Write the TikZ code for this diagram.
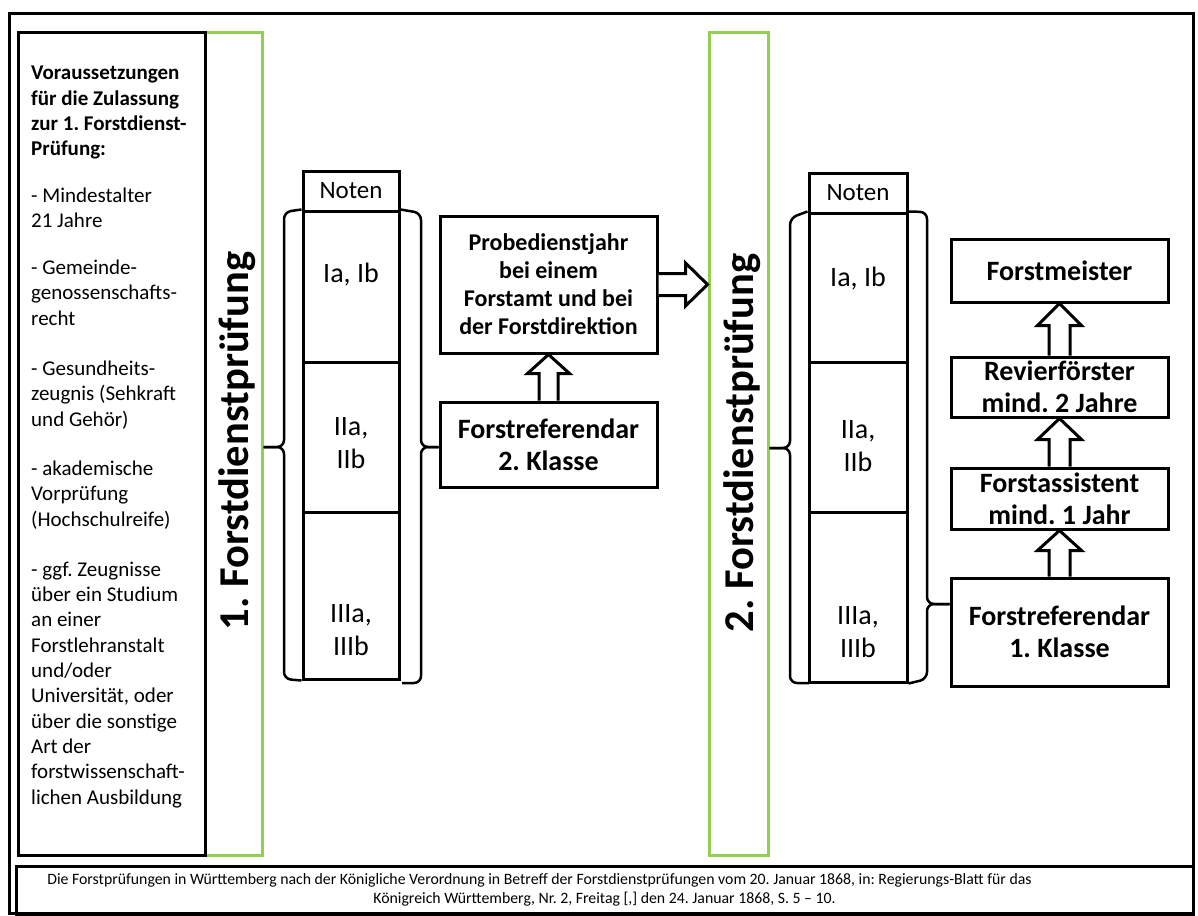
\documentclass[tikz,border=0pt]{standalone}
\usepackage{fontspec}
\setmainfont{Carlito}
\usetikzlibrary{calc}
\definecolor{examgreen}{RGB}{146,208,80}
\frenchspacing

\tikzset{
  outline/.style={draw=black, line width=3pt},
  box/.style={draw=black, line width=3pt, fill=white, inner sep=0pt, align=center,
    minimum width=217pt, font=\bfseries\fontsize{28}{32}\selectfont},
  cell/.style={draw=black, line width=3pt, inner sep=0pt, minimum width=96pt},
  grade/.style={align=center, inner sep=0pt, font=\fontsize{28}{33}\selectfont},
  examframe/.style={draw=examgreen, line width=3pt, inner sep=0pt, minimum height=822pt},
  examlabel/.style={rotate=90, inner sep=0pt, font=\bfseries\fontsize{42.5}{43}\selectfont},
  brace/.style={draw=black, line width=2.5pt, rounded corners=7pt},
  blockarrow/.style={draw=black, line width=3pt, fill=white, line join=miter},
}

\begin{document}
\begin{tikzpicture}[x=1pt,y=-1pt]
\useasboundingbox (0,0) rectangle (1198,915);

% outer border
\draw[outline] (9,14) rectangle (1193,913);

% exam columns (green)
\node[examframe, minimum width=57pt] (exam1frame) at (233.5,444) {};
\node[examframe, minimum width=59pt] (exam2frame) at (738.5,444) {};
\node[examlabel] (exam1) at (237.5,441) {1. Forstdienstprüfung};
\node[examlabel] (exam2) at (742.5,443) {2. Forstdienstprüfung};

% admission requirements
\node[outline, inner sep=0pt, minimum width=187pt, minimum height=822pt] (reqbox) at (111.5,444) {};
\node[anchor=north west, inner sep=0pt, align=left, font=\fontsize{21}{25.3}\selectfont] (reqtext) at (31,66) {%
\textbf{Voraussetzungen}\\
\textbf{für die Zulassung}\\
\textbf{zur 1. Forstdienst-}\\
\textbf{Prüfung:}\\[21pt]
- Mindestalter\\
21 Jahre\\[22pt]
- Gemeinde-\\
genossenschafts-\\
recht\\[25pt]
- Gesundheits-\\
zeugnis (Sehkraft\\
und Gehör)\\[24pt]
- akademische\\
Vorprüfung\\
(Hochschulreife)\\[25pt]
- ggf. Zeugnisse\\
über ein Studium\\
an einer\\
Forstlehranstalt\\
und/oder\\
Universität, oder\\
über die sonstige\\
Art der\\
forstwissenschaft-\\
lichen Ausbildung};

% grades after the first exam
\node[cell, minimum height=40pt] (n1head) at (351,191) {};
\node[cell, minimum height=151pt] (n1a) at (351,286.5) {};
\node[cell, minimum height=150pt] (n1b) at (351,437) {};
\node[cell, minimum height=167pt] (n1c) at (351,595.5) {};
\node[inner sep=0pt, font=\fontsize{25}{30}\selectfont] (n1headtext) at (n1head) {Noten};
\node[grade] (g1a) at (351,275) {Ia, Ib};
\node[grade] (g1b) at (351,443.5) {IIa,\\IIb};
\node[grade] (g1c) at (351,630.5) {IIIa,\\IIIb};

% grades after the second exam
\node[cell, minimum height=40pt, minimum width=98pt] (n2head) at (858,193) {};
\node[cell, minimum height=149pt, minimum width=98pt] (n2a) at (858,287.5) {};
\node[cell, minimum height=150pt, minimum width=98pt] (n2b) at (858,437) {};
\node[cell, minimum height=170pt, minimum width=98pt] (n2c) at (858,597) {};
\node[inner sep=0pt, font=\fontsize{25}{30}\selectfont] (n2headtext) at (n2head) {Noten};
\node[grade] (g2a) at (858,279) {Ia, Ib};
\node[grade] (g2b) at (858,446) {IIa,\\IIb};
\node[grade] (g2c) at (858,632) {IIIa,\\IIIb};

% career boxes
\node[box, minimum height=137pt, font=\bfseries\fontsize{24}{28}\selectfont] (probe) at (548.5,284.5)
  {Probedienstjahr\\bei einem\\Forstamt und bei\\der Forstdirektion};
\node[box, minimum height=85pt] (ref2) at (548.5,444.5) {Forstreferendar\\2. Klasse};
\node[box, minimum height=63pt] (meister) at (1059.5,270.5) {Forstmeister};
\node[box, minimum height=60pt] (revier) at (1059.5,387) {Revierförster\\mind. 2 Jahre};
\node[box, minimum height=61pt] (assist) at (1059.5,498.5) {Forstassistent\\mind. 1 Jahr};
\node[box, minimum height=108pt] (ref1) at (1059.5,632) {Forstreferendar\\1. Klasse};

% braces around the grade columns
\coordinate (t1l) at (exam1frame.east |- 0,447);
\coordinate (t1r) at (ref2.west |- 0,447);
\coordinate (t2l) at (exam2frame.east |- 0,448);
\coordinate (t2r) at (ref1.west |- 0,604);
\draw[brace] (n1a.north west) -- (284,212) -- (284,447) -- (t1l);
\draw[brace] (t1l) -- (284,447) -- (284,679) -- (n1c.south west);
\draw[brace] (n1a.north east) -- (421,213) -- (421,447) -- (t1r);
\draw[brace] (t1r) -- (421,447) -- (421,683) -- (402,683);
\draw[brace] (n2a.north west) -- (790,218) -- (790,448) -- (t2l);
\draw[brace] (t2l) -- (790,448) -- (790,683) -- (809,683);
\draw[brace] (n2a.north east) -- (927,212) -- (927,604) -- (t2r);
\draw[brace] (t2r) -- (927,604) -- (927,679) -- (n2c.south east);

% block arrows
\draw[blockarrow] ($(ref2.north)+(-9.5,0)$) -- ($(probe.south)+(-9.5,19)$) -- ($(probe.south)+(-21,19)$)
  -- (probe.south) -- ($(probe.south)+(21,19)$) -- ($(probe.south)+(9.5,19)$) -- ($(ref2.north)+(9.5,0)$);
\draw[blockarrow] ($(probe.east)+(0,-11)$) -- ($(exam2frame.west |- probe.east)+(-22,-11)$)
  -- ($(exam2frame.west |- probe.east)+(-22,-21.5)$) -- (exam2frame.west |- probe.east)
  -- ($(exam2frame.west |- probe.east)+(-22,21.5)$) -- ($(exam2frame.west |- probe.east)+(-22,11)$)
  -- ($(probe.east)+(0,11)$);
\draw[blockarrow] ($(revier.north)+(-10.5,0)$) -- ($(meister.south)+(-10.5,22)$) -- ($(meister.south)+(-22,22)$)
  -- (meister.south) -- ($(meister.south)+(22,22)$) -- ($(meister.south)+(10.5,22)$) -- ($(revier.north)+(10.5,0)$);
\draw[blockarrow] ($(assist.north)+(-10.5,0)$) -- ($(revier.south)+(-10.5,21)$) -- ($(revier.south)+(-22,21)$)
  -- (revier.south) -- ($(revier.south)+(22,21)$) -- ($(revier.south)+(10.5,21)$) -- ($(assist.north)+(10.5,0)$);
\draw[blockarrow] ($(ref1.north)+(-10.5,0)$) -- ($(assist.south)+(-10.5,20)$) -- ($(assist.south)+(-22,20)$)
  -- (assist.south) -- ($(assist.south)+(22,20)$) -- ($(assist.south)+(10.5,20)$) -- ($(ref1.north)+(10.5,0)$);

% source
\node[outline, inner sep=0pt, minimum width=1177pt, minimum height=48pt, align=center,
  font=\fontsize{15.8}{18.5}\selectfont] (source) at (604.5,890)
  {Die Forstprüfungen in Württemberg nach der Königliche Verordnung in Betreff der Forstdienstprüfungen vom 20. Januar 1868, in: Regierungs-Blatt für das\hspace*{130pt}\\
   Königreich Württemberg, Nr. 2, Freitag [,] den 24. Januar 1868, S. 5 – 10.};
\end{tikzpicture}
\end{document}
